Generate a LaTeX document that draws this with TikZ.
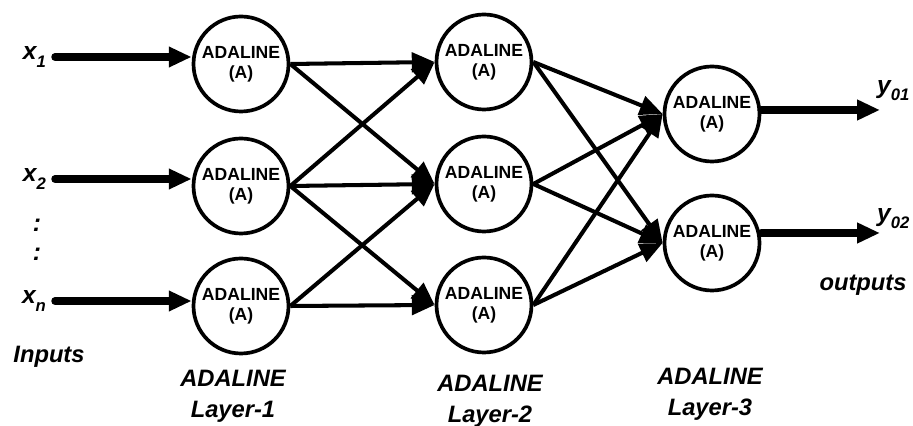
\documentclass[tikz,border=0pt]{standalone}
\usepackage{fontspec}
\setmainfont{Liberation Sans}
\usetikzlibrary{arrows.meta}
\newcommand{\lowsub}[1]{\raisebox{-0.55ex}{\fontsize{9.5}{10}\selectfont #1}}
\begin{document}
\begin{tikzpicture}[
  >={Triangle[length=13pt,width=11pt]},
  neuron/.style={circle, draw, line width=2.1pt, minimum size=1.9cm, inner sep=0pt,
    align=center, font=\bfseries\fontsize{10}{11.5}\selectfont},
  link/.style={->, line width=2.3pt},
  feed/.style={->, line width=4.3pt, line cap=round},
  caption/.style={align=center, font=\bfseries\itshape\fontsize{13.5}{17.5}\selectfont},
  var/.style={font=\bfseries\itshape\fontsize{14}{16}\selectfont, inner sep=1pt}
]
\useasboundingbox (0,0) rectangle (18.26,8.52);
% three layers of adaline units
\foreach \i/\y in {1/7.24,2/4.80,3/2.40}
  \node[neuron] (a\i) at (4.82,\y) {ADALINE\\(A)};
\foreach \i/\y in {1/7.28,2/4.84,3/2.42}
  \node[neuron] (b\i) at (9.68,\y) {ADALINE\\(A)};
\foreach \i/\y in {1/6.24,2/3.66}
  \node[neuron] (c\i) at (14.24,\y) {ADALINE\\(A)};
% weights between layers
\foreach \i/\j in {1/1,1/2,2/1,2/2,2/3,3/2,3/3}
  \draw[link] (a\i.east) -- (b\j.west);
\foreach \i in {1,2,3}
  \foreach \j in {1,2}
    \draw[link] (b\i.east) -- (c\j.west);
% inputs
\node[var, anchor=east] (x1) at (0.96,7.38) {x\lowsub{1}};
\node[var, anchor=east] (x2) at (0.96,4.94) {x\lowsub{2}};
\node[var, anchor=east] (xn) at (0.96,2.50) {x\lowsub{n}};
\node[var] (dotsa) at (0.74,4.02) {:};
\node[var] (dotsb) at (0.74,3.44) {:};
\draw[feed] ([xshift=4pt]x1.east) -- (x1.east -| a1.west);
\draw[feed] ([xshift=4pt]x2.east) -- (x2.east -| a2.west);
\draw[feed] ([xshift=4pt]xn.east) -- (xn.east -| a3.west);
% outputs
\coordinate (o1) at (17.6,6.32);
\coordinate (o2) at (17.6,3.86);
\draw[feed] (o1 -| c1.east) -- (o1);
\draw[feed] (o2 -| c2.east) -- (o2);
\node[var, anchor=west] (y1) at (17.5,6.70) {y\lowsub{01}};
\node[var, anchor=west] (y2) at (17.5,4.14) {y\lowsub{02}};
% captions
\node[caption] (inputs) at (0.98,1.38) {Inputs};
\node[caption] (outputs) at (17.26,2.82) {outputs};
\node[caption] (lay1) at (4.66,0.60) {ADALINE\\Layer-1};
\node[caption] (lay2) at (9.80,0.50) {ADALINE\\Layer-2};
\node[caption] (lay3) at (14.20,0.64) {ADALINE\\Layer-3};
\end{tikzpicture}
\end{document}
